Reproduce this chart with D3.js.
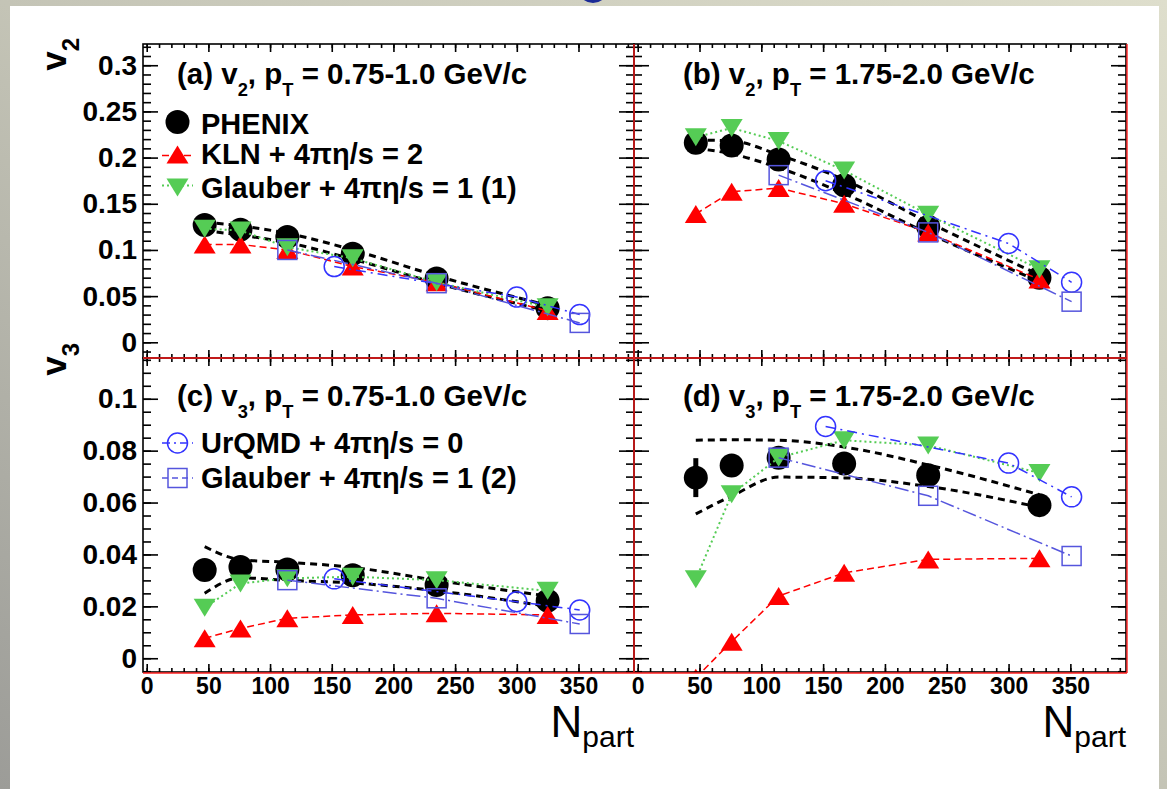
<!DOCTYPE html>
<html><head><meta charset="utf-8">
<script src="https://cdn.jsdelivr.net/npm/d3@7"></script>
<style>
html,body{margin:0;padding:0;background:#fff;}
body{width:1167px;height:789px;overflow:hidden;}
text{font-family:"Liberation Sans",Arial,Helvetica,sans-serif;}
</style></head><body>
<svg id="chart" width="1167" height="789"></svg>
<script>
// ---------------- data ----------------
const npart = [47, 76, 114, 167, 235, 325];
const npartUrqmd = [152, 300, 351];
const npartGlauber2 = [114, 235, 351];

const xTickValues = [0, 50, 100, 150, 200, 250, 300, 350];
const xTickLabels = ["0", "50", "100", "150", "200", "250", "300", "350"];
const v2TickValues = [0, 0.05, 0.1, 0.15, 0.2, 0.25, 0.3];
const v2TickLabels = ["0", "0.05", "0.1", "0.15", "0.2", "0.25", "0.3"];
const v3TickValues = [0, 0.02, 0.04, 0.06, 0.08, 0.1];
const v3TickLabels = ["0", "0.02", "0.04", "0.06", "0.08", "0.1"];

// (a) v2, pT 0.75-1.0
const phenixA = [0.127, 0.122, 0.114, 0.096, 0.069, 0.037];
const phenixAUpper = [0.130, 0.126, 0.118, 0.100, 0.072, 0.040];
const phenixALower = [0.121, 0.116, 0.108, 0.090, 0.064, 0.034];
const phenixAErr = [0.002, 0.002, 0.002, 0.002, 0.002, 0.002];
const klnA = [0.106, 0.106, 0.100, 0.082, 0.065, 0.034];
const glauber1A = [0.123, 0.121, 0.103, 0.091, 0.065, 0.038];
const urqmdA = [0.082, 0.049, 0.030];
const glauber2A = [0.100, 0.064, 0.021];

// (b) v2, pT 1.75-2.0
const phenixB = [0.216, 0.213, 0.198, 0.170, 0.125, 0.070];
const phenixBUpper = [0.219, 0.218, 0.203, 0.176, 0.130, 0.073];
const phenixBLower = [0.210, 0.204, 0.189, 0.161, 0.118, 0.066];
const phenixBErr = [0.003, 0.003, 0.003, 0.003, 0.003, 0.003];
const klnB = [0.139, 0.163, 0.167, 0.150, 0.119, 0.068];
const glauber1B = [0.222, 0.232, 0.218, 0.186, 0.138, 0.079];
const urqmdB = [0.175, 0.107, 0.065];
const glauber2B = [0.181, 0.119, 0.044];

// (c) v3, pT 0.75-1.0
const phenixC = [0.0340, 0.0352, 0.0342, 0.0320, 0.0282, 0.0222];
const phenixCUpper = [0.0430, 0.0380, 0.0370, 0.0350, 0.0300, 0.0240];
const phenixCLower = [0.0250, 0.0310, 0.0300, 0.0290, 0.0260, 0.0200];
const phenixCErr = [0.002, 0.002, 0.002, 0.002, 0.002, 0.002];
const klnC = [0.0077, 0.0115, 0.0154, 0.0167, 0.0173, 0.0167];
const glauber1C = [0.0195, 0.0288, 0.0308, 0.0314, 0.0301, 0.0260];
const urqmdC = [0.0306, 0.0218, 0.0186];
const glauber2C = [0.0301, 0.0231, 0.0132];

// (d) v3, pT 1.75-2.0
const phenixD = [0.0696, 0.0743, 0.0773, 0.0750, 0.0705, 0.0590];
const phenixDUpper = [0.0840, 0.0842, 0.0840, 0.0814, 0.0745, 0.0630];
const phenixDLower = [0.0556, 0.0625, 0.0698, 0.0695, 0.0662, 0.0582];
const phenixDErr = [0.0075, 0.003, 0.003, 0.003, 0.003, 0.003];
const klnD = [-0.0075, 0.0064, 0.0240, 0.0329, 0.0381, 0.0385];
const glauber1D = [0.0304, 0.0632, 0.0773, 0.0840, 0.0820, 0.0714];
const urqmdD = [0.0893, 0.0752, 0.0622];
const glauber2D = [0.0773, 0.0626, 0.0394];

// ---------------- layout / style ----------------
const C = {
  red: "#ff0000", green: "#55cc55", blueCirc: "#3333ff", blueSq: "#5555dd", black: "#000"
};
const FONT = '"Liberation Sans", Arial, Helvetica, sans-serif';

const svg = d3.select("#chart");

// slide background
const defs = svg.append("defs");
const bg = defs.append("linearGradient").attr("id", "bgGrad")
  .attr("x1", "0").attr("y1", "1").attr("x2", "1").attr("y2", "0");
bg.append("stop").attr("offset", "0").attr("stop-color", "#9c9c98");
bg.append("stop").attr("offset", "0.5").attr("stop-color", "#c4c4b6");
bg.append("stop").attr("offset", "1").attr("stop-color", "#dedecc");
svg.append("rect").attr("width", 1167).attr("height", 789).attr("fill", "url(#bgGrad)");
svg.append("ellipse").attr("cx", 593).attr("cy", -7).attr("rx", 13).attr("ry", 10).attr("fill", "#1b2a96");
svg.append("rect").attr("x", 10).attr("y", 6).attr("width", 1149).attr("height", 783).attr("fill", "#fff");

const X0 = 143, XM = 634, X1 = 1126, Y0 = 44, YM = 358, Y1 = 672;
const xDomain = [-3, 395];
const v2Domain = [-0.017, 0.323];
const v3Domain = [-0.0053, 0.1157];

const panels = [
  { id: "a", x: [X0, XM], y: [Y0, YM], yd: v2Domain, ticks: v2TickValues, tlabels: v2TickLabels, minor: 0.01,
    leftLabels: true, bottomLabels: false,
    phenix: phenixA, up: phenixAUpper, lo: phenixALower, err: phenixAErr,
    kln: klnA, g1: glauber1A, urqmd: urqmdA, g2: glauber2A },
  { id: "b", x: [XM, X1], y: [Y0, YM], yd: v2Domain, ticks: v2TickValues, tlabels: v2TickLabels, minor: 0.01,
    leftLabels: false, bottomLabels: false,
    phenix: phenixB, up: phenixBUpper, lo: phenixBLower, err: phenixBErr,
    kln: klnB, g1: glauber1B, urqmd: urqmdB, g2: glauber2B },
  { id: "c", x: [X0, XM], y: [YM, Y1], yd: v3Domain, ticks: v3TickValues, tlabels: v3TickLabels, minor: 0.005,
    leftLabels: true, bottomLabels: true,
    phenix: phenixC, up: phenixCUpper, lo: phenixCLower, err: phenixCErr,
    kln: klnC, g1: glauber1C, urqmd: urqmdC, g2: glauber2C },
  { id: "d", x: [XM, X1], y: [YM, Y1], yd: v3Domain, ticks: v3TickValues, tlabels: v3TickLabels, minor: 0.005,
    leftLabels: false, bottomLabels: true,
    phenix: phenixD, up: phenixDUpper, lo: phenixDLower, err: phenixDErr,
    kln: klnD, g1: glauber1D, urqmd: urqmdD, g2: glauber2D }
];

function minorTicks(domain, step) {
  const out = [];
  const start = Math.ceil(domain[0] / step - 1e-9);
  const end = Math.floor(domain[1] / step + 1e-9);
  for (let i = start; i <= end; i++) out.push(+(i * step).toFixed(6));
  return out;
}

function upTri(x, y, w, h) { return `M${x},${y - h / 2}L${x + w / 2},${y + h / 2}L${x - w / 2},${y + h / 2}Z`; }
function downTri(x, y, w, h) { return `M${x},${y + h / 2}L${x + w / 2},${y - h / 2}L${x - w / 2},${y - h / 2}Z`; }

panels.forEach(p => {
  const x = d3.scaleLinear().domain(xDomain).range(p.x);
  const y = d3.scaleLinear().domain(p.yd).range([p.y[1], p.y[0]]);
  const g = svg.append("g");
  const clipId = "clip" + p.id;
  defs.append("clipPath").attr("id", clipId).append("rect")
    .attr("x", p.x[0]).attr("y", p.y[0]).attr("width", p.x[1] - p.x[0]).attr("height", p.y[1] - p.y[0]);
  const plot = g.append("g").attr("clip-path", `url(#${clipId})`);

  // PHENIX systematic bands
  const band = d3.line().x((d, i) => x(npart[i])).y(d => y(d)).curve(d3.curveMonotoneX);
  [p.up, p.lo].forEach(arr => {
    plot.append("path").attr("d", band(arr)).attr("fill", "none")
      .attr("stroke", C.black).attr("stroke-width", 3).attr("stroke-dasharray", "7,5");
  });

  const lin = (xs) => d3.line().x((d, i) => x(xs[i])).y(d => y(d));

  // PHENIX markers + stat errors
  plot.selectAll(null).data(p.phenix).join("line")
    .attr("x1", (d, i) => x(npart[i])).attr("x2", (d, i) => x(npart[i]))
    .attr("y1", (d, i) => y(d - p.err[i])).attr("y2", (d, i) => y(d + p.err[i]))
    .attr("stroke", C.black).attr("stroke-width", 5);
  plot.selectAll(null).data(p.phenix).join("circle")
    .attr("cx", (d, i) => x(npart[i])).attr("cy", d => y(d)).attr("r", 12).attr("fill", C.black);

  // KLN
  plot.append("path").attr("d", lin(npart)(p.kln)).attr("fill", "none")
    .attr("stroke", C.red).attr("stroke-width", 1.5).attr("stroke-dasharray", "7,4");
  plot.selectAll(null).data(p.kln).join("path")
    .attr("d", (d, i) => upTri(x(npart[i]), y(d), 22, 18)).attr("fill", C.red);

  // Glauber (1)
  plot.append("path").attr("d", lin(npart)(p.g1)).attr("fill", "none")
    .attr("stroke", C.green).attr("stroke-width", 2).attr("stroke-dasharray", "2,3");
  plot.selectAll(null).data(p.g1).join("path")
    .attr("d", (d, i) => downTri(x(npart[i]), y(d), 22, 18)).attr("fill", C.green);

  // UrQMD
  plot.append("path").attr("d", lin(npartUrqmd)(p.urqmd)).attr("fill", "none")
    .attr("stroke", C.blueCirc).attr("stroke-width", 1.5).attr("stroke-dasharray", "10,5,2,5");
  plot.selectAll(null).data(p.urqmd).join("circle")
    .attr("cx", (d, i) => x(npartUrqmd[i])).attr("cy", d => y(d)).attr("r", 10)
    .attr("fill", "none").attr("stroke", C.blueCirc).attr("stroke-width", 1.5);

  // Glauber (2)
  plot.append("path").attr("d", lin(npartGlauber2)(p.g2)).attr("fill", "none")
    .attr("stroke", C.blueSq).attr("stroke-width", 1.5).attr("stroke-dasharray", "14,4,2,4");
  plot.selectAll(null).data(p.g2).join("rect")
    .attr("x", (d, i) => x(npartGlauber2[i]) - 9.5).attr("y", d => y(d) - 9.5)
    .attr("width", 19).attr("height", 19)
    .attr("fill", "none").attr("stroke", C.blueSq).attr("stroke-width", 1.5);

  // axes (ticks on all four sides, pointing inward)
  const xMinor = minorTicks(xDomain, 10);
  const yMinor = minorTicks(p.yd, p.minor);
  const mk = (axis, tr) => {
    const a = g.append("g").attr("transform", tr).call(axis);
    a.select(".domain").remove();
    a.selectAll("line").attr("stroke", "#000").attr("stroke-width", 1.6);
    return a;
  };
  // left
  mk(d3.axisLeft(y).tickValues(yMinor).tickSize(-8).tickFormat(""), `translate(${p.x[0]},0)`);
  const la = mk(d3.axisLeft(y).tickValues(p.ticks).tickSize(-15).tickPadding(6)
    .tickFormat((d, i) => p.leftLabels ? p.tlabels[i] : ""), `translate(${p.x[0]},0)`);
  la.selectAll("text").attr("font-family", FONT).attr("font-weight", "bold").attr("font-size", 28).attr("fill", "#000");
  // right
  mk(d3.axisRight(y).tickValues(yMinor).tickSize(-8).tickFormat(""), `translate(${p.x[1]},0)`);
  mk(d3.axisRight(y).tickValues(p.ticks).tickSize(-15).tickFormat(""), `translate(${p.x[1]},0)`);
  // top
  mk(d3.axisTop(x).tickValues(xMinor).tickSize(-4).tickFormat(""), `translate(0,${p.y[0]})`);
  mk(d3.axisTop(x).tickValues(xTickValues).tickSize(-8).tickFormat(""), `translate(0,${p.y[0]})`);
  // bottom
  mk(d3.axisBottom(x).tickValues(xMinor).tickSize(-4).tickFormat(""), `translate(0,${p.y[1]})`);
  const ba = mk(d3.axisBottom(x).tickValues(xTickValues).tickSize(-8).tickPadding(6)
    .tickFormat((d, i) => p.bottomLabels ? xTickLabels[i] : ""), `translate(0,${p.y[1]})`);
  ba.selectAll("text").attr("font-family", FONT).attr("font-weight", "bold").attr("font-size", 23).attr("fill", "#000");

  // frame
  g.append("rect").attr("x", p.x[0]).attr("y", p.y[0]).attr("width", p.x[1] - p.x[0]).attr("height", p.y[1] - p.y[0])
    .attr("fill", "none").attr("stroke", "#000").attr("stroke-width", 1.6);
});

// red pad borders (right and bottom of each pad)
[[XM, Y0, XM, Y1], [X1 + 1, Y0, X1 + 1, Y1 + 1], [X0, YM, X1, YM], [X0, Y1 + 1, X1 + 1, Y1 + 1]].forEach(l => {
  svg.append("line").attr("x1", l[0]).attr("y1", l[1]).attr("x2", l[2]).attr("y2", l[3])
    .attr("stroke", "#ff2020").attr("stroke-width", 1.4);
});

// ---------- text ----------
function subText(sel, x, y, parts, size) {
  const t = sel.append("text").attr("x", x).attr("y", y).attr("font-family", FONT)
    .attr("font-weight", "bold").attr("font-size", size).attr("fill", "#000");
  let shift = 0;
  parts.forEach(pt => {
    const ts = t.append("tspan").text(pt.t);
    const target = pt.sub ? size * 0.42 : 0;
    if (target !== shift) { ts.attr("dy", target - shift); shift = target; }
    if (pt.sub) ts.attr("font-size", size * 0.62);
  });
  return t;
}
const titleSize = 29.5;
subText(svg, 177, 84, [{t: "(a) v"}, {t: "2", sub: true}, {t: ", p"}, {t: "T", sub: true}, {t: " = 0.75-1.0 GeV/c"}], titleSize);
subText(svg, 683, 84, [{t: "(b) v"}, {t: "2", sub: true}, {t: ", p"}, {t: "T", sub: true}, {t: " = 1.75-2.0 GeV/c"}], titleSize);
subText(svg, 177, 406, [{t: "(c) v"}, {t: "3", sub: true}, {t: ", p"}, {t: "T", sub: true}, {t: " = 0.75-1.0 GeV/c"}], titleSize);
subText(svg, 683, 406, [{t: "(d) v"}, {t: "3", sub: true}, {t: ", p"}, {t: "T", sub: true}, {t: " = 1.75-2.0 GeV/c"}], titleSize);

// legends
const legTxtX = 201, legMX = 177.5;
const legendItems = [
  { y: 122, base: 134, label: "PHENIX", kind: "phenix" },
  { y: 154.5, base: 164, label: "KLN + 4\u03c0\u03b7/s = 2", kind: "kln" },
  { y: 187.5, base: 198, label: "Glauber + 4\u03c0\u03b7/s = 1 (1)", kind: "g1" },
  { y: 443, base: 453, label: "UrQMD + 4\u03c0\u03b7/s = 0", kind: "urqmd" },
  { y: 478, base: 488, label: "Glauber + 4\u03c0\u03b7/s = 1 (2)", kind: "g2" }
];
legendItems.forEach(it => {
  const yy = it.y;
  if (it.kind === "phenix") {
    svg.append("circle").attr("cx", legMX).attr("cy", yy).attr("r", 12).attr("fill", "#000");
  } else if (it.kind === "kln") {
    svg.append("line").attr("x1", 162).attr("x2", 195).attr("y1", yy + 1).attr("y2", yy + 1)
      .attr("stroke", C.red).attr("stroke-width", 1.5).attr("stroke-dasharray", "7,4");
    svg.append("path").attr("d", upTri(legMX, yy, 22, 18)).attr("fill", C.red);
  } else if (it.kind === "g1") {
    svg.append("line").attr("x1", 162).attr("x2", 193).attr("y1", yy - 2).attr("y2", yy - 2)
      .attr("stroke", C.green).attr("stroke-width", 2).attr("stroke-dasharray", "2,3");
    svg.append("path").attr("d", downTri(legMX, yy, 22, 18)).attr("fill", C.green);
  } else if (it.kind === "urqmd") {
    svg.append("line").attr("x1", 162).attr("x2", 193).attr("y1", yy).attr("y2", yy)
      .attr("stroke", C.blueCirc).attr("stroke-width", 1.5).attr("stroke-dasharray", "8,4,2,4");
    svg.append("circle").attr("cx", legMX).attr("cy", yy).attr("r", 10).attr("fill", "none")
      .attr("stroke", C.blueCirc).attr("stroke-width", 1.5);
  } else {
    svg.append("line").attr("x1", 162).attr("x2", 193).attr("y1", yy).attr("y2", yy)
      .attr("stroke", C.blueSq).attr("stroke-width", 1.5).attr("stroke-dasharray", "6,4");
    svg.append("rect").attr("x", legMX - 9.5).attr("y", yy - 9.5).attr("width", 19).attr("height", 19)
      .attr("fill", "none").attr("stroke", C.blueSq).attr("stroke-width", 1.5);
  }
  svg.append("text").attr("x", legTxtX).attr("y", it.base).attr("font-family", FONT)
    .attr("font-weight", "bold").attr("font-size", 29).attr("fill", "#000").text(it.label);
});

// axis titles
function yTitle(yEnd, sub) {
  const t = svg.append("text").attr("transform", `translate(66,${yEnd}) rotate(-90)`)
    .attr("text-anchor", "end").attr("font-family", FONT).attr("font-weight", "bold")
    .attr("font-size", 35).attr("fill", "#000");
  t.append("tspan").text("v");
  t.append("tspan").attr("dy", 13).attr("font-size", 24).text(sub);
}
yTitle(38, "2");
yTitle(343, "3");

function xTitle(xEnd) {
  const t = svg.append("text").attr("x", xEnd).attr("y", 737).attr("text-anchor", "end")
    .attr("font-family", FONT).attr("font-size", 44).attr("fill", "#000");
  t.append("tspan").text("N");
  t.append("tspan").attr("dy", 10).attr("font-size", 30).text("part");
}
xTitle(634);
xTitle(1126);
</script>
</body></html>
